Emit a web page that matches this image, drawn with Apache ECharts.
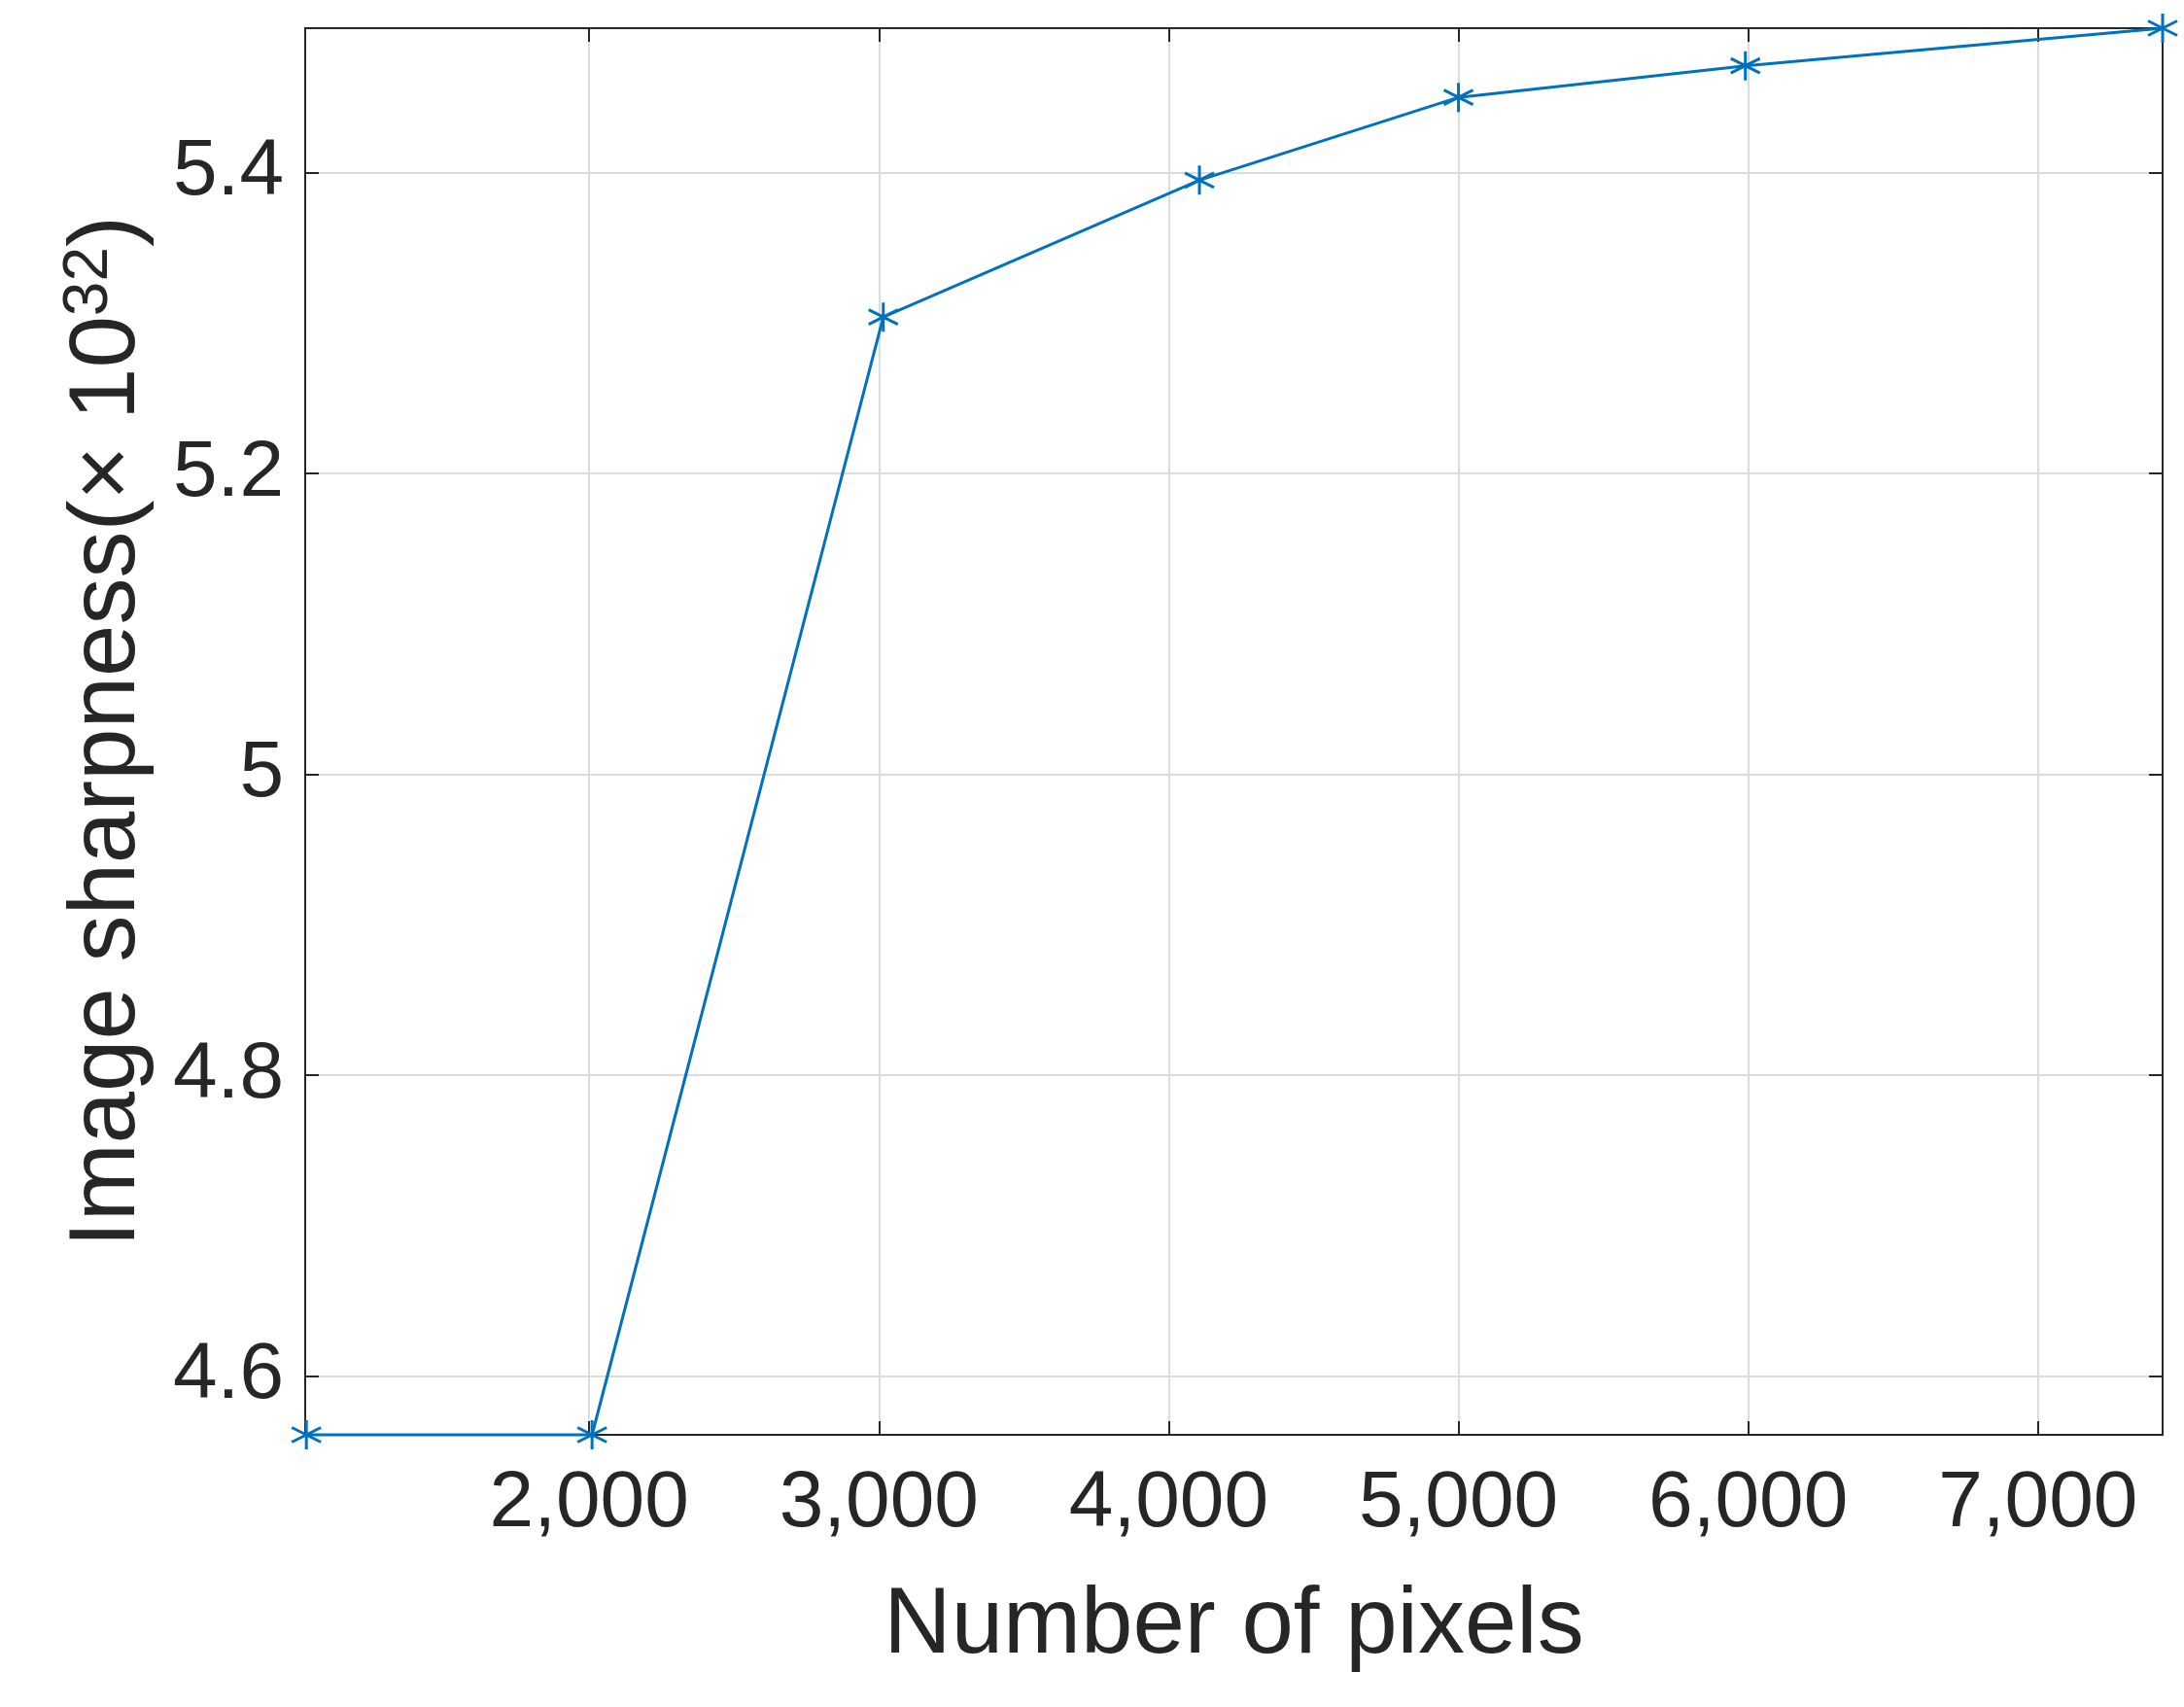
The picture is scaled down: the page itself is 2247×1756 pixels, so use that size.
<!DOCTYPE html>
<html><head><meta charset="utf-8">
<script src="https://cdn.jsdelivr.net/npm/echarts@6/dist/echarts.min.js"></script>
<style>html,body{margin:0;padding:0;background:#fff}#c{width:2247px;height:1756px}</style>
</head><body><div id="c"></div>
<script>
const pixels = [1024, 2010, 3015, 4106, 5000, 5990, 7430];
const sharpness = [4.561, 4.561, 5.304, 5.395, 5.450, 5.471, 5.496];
const xTicks = [2000, 3000, 4000, 5000, 6000, 7000];
const yTicks = [4.6, 4.8, 5.0, 5.2, 5.4];
const xMin = 1020, xMax = 7430, yMin = 4.561, yMax = 5.496;
const font = 'Liberation Sans, Arial, sans-serif';
const chart = echarts.init(document.getElementById('c'));
const star = 'path://M0,-1L0,1M-0.87,-0.5L0.87,0.5M-0.87,0.5L0.87,-0.5';
const baseX = {type:'value', min:xMin, max:xMax,
  axisLine:{show:false}, axisTick:{show:true, inside:true, length:14, customValues:xTicks, lineStyle:{color:'#262626', width:2}}};
const baseY = {type:'value', min:yMin, max:yMax,
  axisLine:{show:false}, axisTick:{show:true, inside:true, length:14, customValues:yTicks, lineStyle:{color:'#262626', width:2}}};
chart.setOption({
  animation:false,
  grid:{left:314, right:22, top:29, bottom:280, show:true, borderColor:'#262626', borderWidth:2, backgroundColor:'#fff'},
  xAxis:[
    Object.assign({}, baseX, {position:'bottom', name:'Number of pixels', nameLocation:'middle', nameGap:150,
      nameTextStyle:{fontFamily:font, fontSize:96, color:'#262626'},
      axisLabel:{customValues:xTicks, fontFamily:font, fontSize:82, color:'#262626', margin:30},
      splitLine:{show:true, lineStyle:{color:'#dcdcdc', width:2}}}),
    Object.assign({}, baseX, {position:'top', axisLabel:{show:false}, splitLine:{show:false}})
  ],
  yAxis:[
    Object.assign({}, baseY, {position:'left', name:'Image sharpness(× 10{sup|32})', nameLocation:'middle', nameGap:150,
      nameTextStyle:{fontFamily:font, fontSize:96, color:'#262626', rich:{sup:{fontFamily:font, fontSize:64, color:'#262626', verticalAlign:'top', padding:[0,0,40,0]}}},
      axisLabel:{customValues:yTicks, fontFamily:font, fontSize:82, color:'#262626', margin:22, formatter:v=>String(Math.round(v*10)/10)},
      splitLine:{show:true, lineStyle:{color:'#dcdcdc', width:2}}}),
    Object.assign({}, baseY, {position:'right', axisLabel:{show:false}, splitLine:{show:false}})
  ],
  series:[{type:'line', data:pixels.map((p,i)=>[p, sharpness[i]]), symbol:star, symbolSize:30,
    lineStyle:{color:'#0072BD', width:3}, itemStyle:{color:'none', borderColor:'#0072BD', borderWidth:3},
    clip:false}]
});
</script></body></html>
